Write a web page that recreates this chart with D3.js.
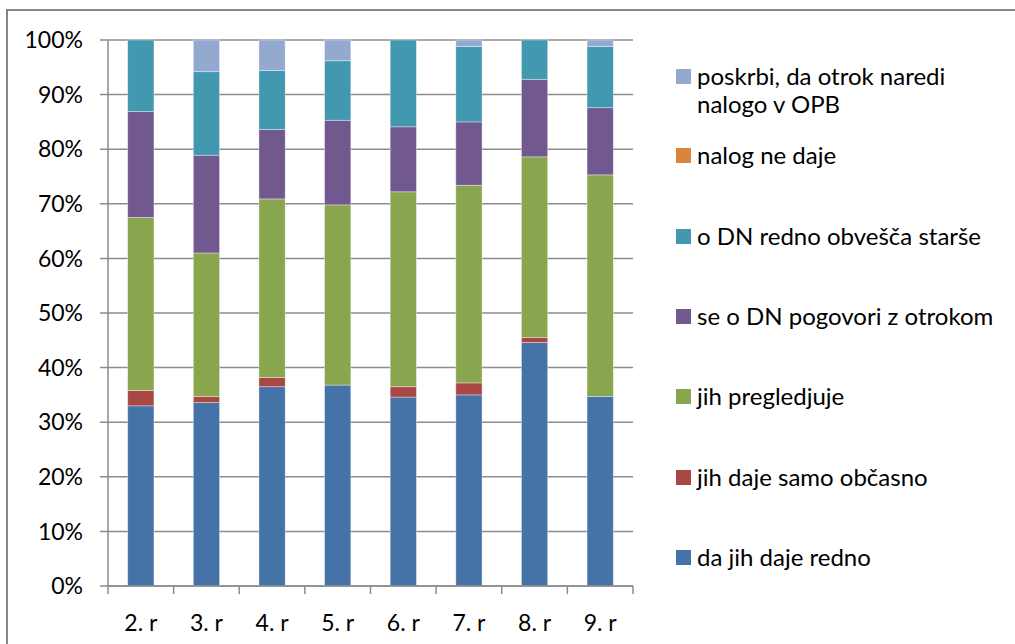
<!DOCTYPE html>
<html>
<head>
<meta charset="utf-8">
<script src="https://cdn.jsdelivr.net/npm/d3@7"></script>
<style>
  body { margin: 0; background: white; }
  svg { display: block; }
</style>
</head>
<body>
<svg id="chart" width="1015" height="644"></svg>
<script>
// categories (grades)
var grades = ["2. r", "3. r", "4. r", "5. r", "6. r", "7. r", "8. r", "9. r"];

// series, bottom to top of the stack (percent)
var dajeRedno = [33.0, 33.6, 36.5, 36.8, 34.6, 35.0, 44.6, 34.7];
var dajeObcasno = [2.8, 1.1, 1.7, 0, 1.9, 2.2, 0.9, 0];
var pregledjuje = [31.7, 26.3, 32.7, 33.0, 35.7, 36.2, 33.1, 40.6];
var pogovori = [19.4, 17.9, 12.7, 15.5, 11.9, 11.6, 14.2, 12.3];
var obvesca = [13.1, 15.3, 10.8, 10.9, 15.9, 13.8, 7.2, 11.2];
var neDaje = [0, 0, 0, 0, 0, 0, 0, 0];
var poskrbi = [0, 5.8, 5.6, 3.8, 0, 1.2, 0, 1.2];

var seriesNames = [
  "da jih daje redno",
  "jih daje samo občasno",
  "jih pregledjuje",
  "se o DN pogovori z otrokom",
  "o DN redno obvešča starše",
  "nalog ne daje",
  "poskrbi, da otrok naredi nalogo v OPB"
];
var seriesValues = [dajeRedno, dajeObcasno, pregledjuje, pogovori, obvesca, neDaje, poskrbi];
var seriesColors = ["#4572a7", "#aa4643", "#89a54e", "#71588f", "#4198af", "#db843d", "#93a9cf"];

var yTicks = [0, 10, 20, 30, 40, 50, 60, 70, 80, 90, 100];

var FONT = "Lato, 'Open Sans', sans-serif";

var svg = d3.select("#chart");

// outer chart border (right/bottom edges run off the picture)
svg.append("rect")
  .attr("x", 7)
  .attr("y", 10)
  .attr("width", 1020)
  .attr("height", 650)
  .attr("fill", "none")
  .attr("stroke", "#868686")
  .attr("stroke-width", 2);

var plotLeft = 108, plotRight = 633, plotTop = 40, plotBottom = 586;

var x = d3.scaleBand()
  .domain(grades)
  .range([plotLeft, plotRight])
  .paddingInner(0.6)
  .paddingOuter(0.3);

var y = d3.scaleLinear()
  .domain([0, 100])
  .range([plotBottom, plotTop]);

// gridlines
svg.append("g")
  .selectAll("line")
  .data(yTicks)
  .enter()
  .append("line")
  .attr("x1", plotLeft - 8)
  .attr("x2", plotRight)
  .attr("y1", function (d) { return y(d); })
  .attr("y2", function (d) { return y(d); })
  .attr("stroke", "#8c8c8c")
  .attr("stroke-width", 1.5);

// y tick labels
svg.append("g")
  .selectAll("text")
  .data(yTicks)
  .enter()
  .append("text")
  .attr("x", 83)
  .attr("y", function (d) { return y(d); })
  .attr("dy", "0.36em")
  .attr("text-anchor", "end")
  .style("font-family", FONT)
  .style("font-size", "23px")
  .attr("fill", "#000")
  .text(function (d) { return d + "%"; });

// stacked bars
var rows = grades.map(function (g, i) {
  var r = { grade: g };
  seriesNames.forEach(function (s, j) { r[s] = seriesValues[j][i]; });
  return r;
});
var stacked = d3.stack().keys(seriesNames)(rows);

svg.append("g")
  .selectAll("g")
  .data(stacked)
  .enter()
  .append("g")
  .attr("fill", function (d, i) { return seriesColors[i]; })
  .selectAll("rect")
  .data(function (d) { return d; })
  .enter()
  .append("rect")
  .attr("x", function (d) { return x(d.data.grade); })
  .attr("width", x.bandwidth())
  .attr("y", function (d) { return y(d[1]); })
  .attr("height", function (d) { return y(d[0]) - y(d[1]); })
  .attr("stroke", "#ffffff")
  .attr("stroke-opacity", function (d) { return d[1] - d[0] > 0 ? 0.45 : 0; })
  .attr("stroke-width", 0.8);

// axis lines
svg.append("line")
  .attr("x1", plotLeft).attr("x2", plotLeft)
  .attr("y1", plotTop).attr("y2", plotBottom)
  .attr("stroke", "#8c8c8c")
  .attr("stroke-width", 1.5);

svg.append("line")
  .attr("x1", plotLeft).attr("x2", plotRight)
  .attr("y1", plotBottom).attr("y2", plotBottom)
  .attr("stroke", "#8c8c8c")
  .attr("stroke-width", 1.5);

// x ticks between categories
var tickPos = d3.range(grades.length + 1).map(function (i) {
  return plotLeft + i * x.step();
});
svg.append("g")
  .selectAll("line")
  .data(tickPos)
  .enter()
  .append("line")
  .attr("x1", function (d) { return d; })
  .attr("x2", function (d) { return d; })
  .attr("y1", plotBottom)
  .attr("y2", plotBottom + 8)
  .attr("stroke", "#8c8c8c")
  .attr("stroke-width", 1.5);

// x labels
svg.append("g")
  .selectAll("text")
  .data(grades)
  .enter()
  .append("text")
  .attr("x", function (d) { return x(d) + x.bandwidth() / 2; })
  .attr("y", 631)
  .attr("text-anchor", "middle")
  .style("font-family", FONT)
  .style("font-size", "23px")
  .attr("fill", "#000")
  .text(function (d) { return d; });

// legend, reversed series order
var legendY = [76, 155, 236, 316, 396, 477, 557];
var legendItems = seriesNames.slice().reverse();
var legendColors = seriesColors.slice().reverse();

var legend = svg.append("g");
legendItems.forEach(function (name, i) {
  legend.append("rect")
    .attr("x", 676)
    .attr("y", legendY[i] - 7)
    .attr("width", 15)
    .attr("height", 15)
    .attr("fill", legendColors[i]);
  var t = legend.append("text")
    .attr("x", 697)
    .attr("y", legendY[i])
    .attr("dy", "0.36em")
    .style("font-family", FONT)
    .style("font-size", "24px")
    .attr("fill", "#000");
  if (name.indexOf("poskrbi") === 0) {
    t.text("poskrbi, da otrok naredi");
    legend.append("text")
      .attr("x", 697)
      .attr("y", legendY[i] + 28)
      .attr("dy", "0.36em")
      .style("font-family", FONT)
      .style("font-size", "24px")
      .attr("fill", "#000")
      .text("nalogo v OPB");
  } else {
    t.text(name);
  }
});
</script>
</body>
</html>
